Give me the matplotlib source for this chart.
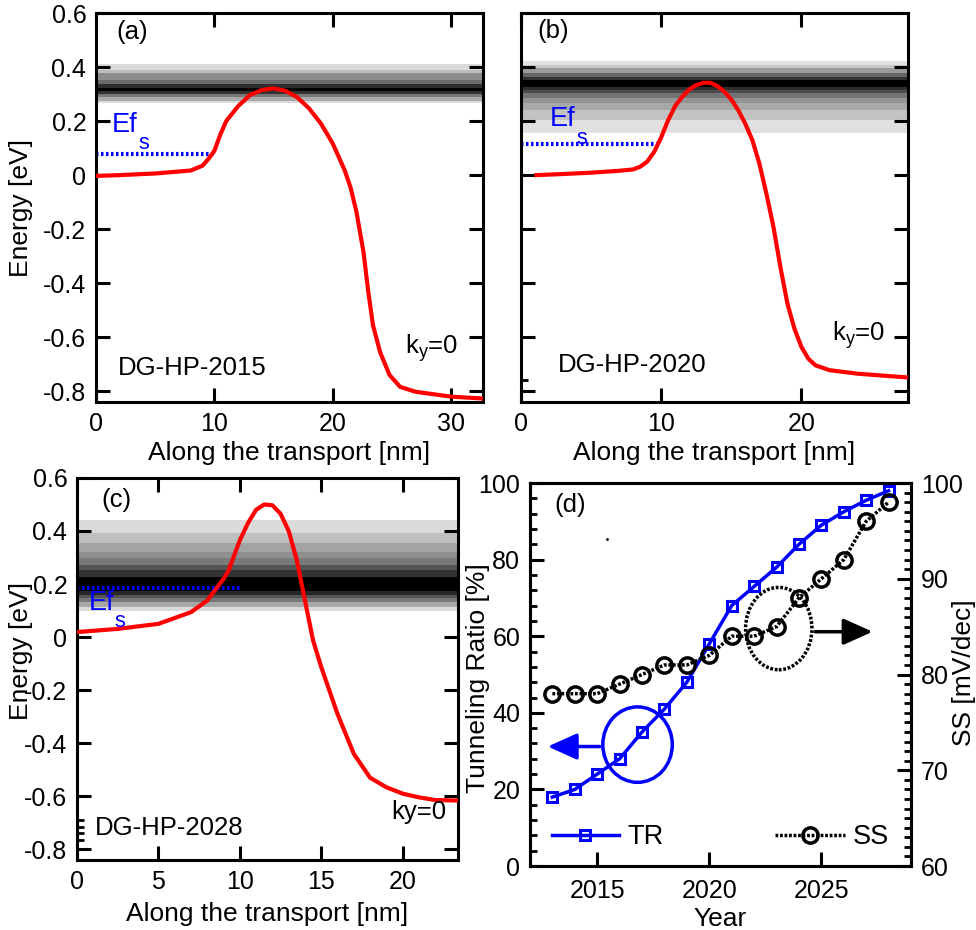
import matplotlib.pyplot as plt
from matplotlib.patches import Ellipse

plt.rcParams['font.family'] = ['Liberation Sans', 'DejaVu Sans']
plt.rcParams['font.size'] = 18
plt.rcParams['axes.labelsize'] = 19
plt.rcParams['mathtext.fontset'] = 'custom'
plt.rcParams['mathtext.rm'] = 'Liberation Sans'

# conduction band profiles along the transport direction
x_a = [0, 2, 5, 8, 9, 9.5, 10, 10.5, 11, 12, 13, 14, 15, 16, 17, 18, 19, 20, 21,
       21.5, 22, 22.6, 23, 23.4, 24, 24.8, 25.7, 27, 30, 32.7]
e_a = [-0.003, 0.0, 0.006, 0.017, 0.035, 0.06, 0.09, 0.15, 0.2, 0.255, 0.296, 0.315,
       0.321, 0.312, 0.288, 0.247, 0.191, 0.117, 0.019, -0.045, -0.135, -0.285, -0.43,
       -0.555, -0.655, -0.74, -0.784, -0.802, -0.82, -0.827]

x_b = [1.1, 3, 5, 7, 8, 8.5, 9, 9.5, 10, 10.5, 11, 11.5, 12, 12.5, 13, 13.5, 14, 14.5,
       15, 15.5, 16, 16.5, 17, 17.5, 18, 18.5, 19, 19.5, 20, 20.5, 21, 22, 24, 26, 27.6]
e_b = [0.0, 0.004, 0.009, 0.016, 0.021, 0.031, 0.05, 0.086, 0.14, 0.204, 0.256, 0.29,
       0.317, 0.333, 0.342, 0.342, 0.33, 0.309, 0.28, 0.24, 0.19, 0.13, 0.043, -0.068,
       -0.19, -0.34, -0.475, -0.568, -0.636, -0.68, -0.704, -0.722, -0.735, -0.743, -0.749]

x_c = [0, 2.5, 5, 7, 8, 9, 9.3, 10, 10.5, 11, 11.5, 12, 12.5, 13, 13.5, 14, 14.5, 15,
       16, 17, 18, 19, 20, 21, 22, 23.4]
e_c = [0.019, 0.031, 0.05, 0.094, 0.138, 0.22, 0.25, 0.365, 0.43, 0.48, 0.50, 0.497,
       0.465, 0.40, 0.29, 0.138, -0.013, -0.113, -0.29, -0.44, -0.53, -0.566, -0.59,
       -0.604, -0.614, -0.616]

# source Fermi levels
ef_x = [0, 10]
ef_a = 0.078
ef_b = 0.114
ef_c = 0.185

# energy-resolved density bands: stripe edges (eV) and gray levels
band_edges_a = [0.267, 0.275, 0.288, 0.300, 0.311, 0.322, 0.337, 0.352, 0.378, 0.389, 0.410]
band_gray_a = [0.86, 0.67, 0.47, 0.2, 0.0, 0.18, 0.42, 0.55, 0.74, 0.86]

band_edges_b = [0.156, 0.204, 0.241, 0.266, 0.284, 0.303, 0.315, 0.327, 0.352, 0.364,
                0.377, 0.395, 0.407, 0.422]
band_gray_b = [0.88, 0.76, 0.66, 0.58, 0.45, 0.3, 0.18, 0.0, 0.2, 0.4, 0.6, 0.78, 0.88]

band_edges_c = [0.100, 0.114, 0.133, 0.146, 0.160, 0.172, 0.226, 0.253, 0.272, 0.298,
                0.321, 0.355, 0.391, 0.443]
band_gray_c = [0.86, 0.66, 0.47, 0.33, 0.15, 0.0, 0.2, 0.33, 0.48, 0.56, 0.64, 0.75, 0.86]

# scaling trend
years = [2013, 2014, 2015, 2016, 2017, 2018, 2019, 2020, 2021, 2022, 2023, 2024,
         2025, 2026, 2027, 2028]
tr = [18, 20, 24, 28, 35, 41, 48, 58, 68, 73, 78, 84, 89, 92.5, 95.5, 98]
ss = [78, 78, 78, 79, 80, 81, 81, 82, 84, 84, 85, 88, 90, 92, 96, 98]

fig = plt.figure(figsize=(9.76, 9.30), dpi=100)
ax_a = fig.add_axes([0.0984, 0.5677, 0.3965, 0.4183])
ax_b = fig.add_axes([0.5338, 0.5677, 0.3965, 0.4183])
ax_c = fig.add_axes([0.0789, 0.0753, 0.3904, 0.4108])
ax_d = fig.add_axes([0.5430, 0.0688, 0.3904, 0.4118])

TXT = 18.5


def style(ax):
    for s in ax.spines.values():
        s.set_linewidth(2.2)
    ax.tick_params(which='major', direction='in', length=10, width=2.2, pad=7)
    ax.tick_params(which='minor', direction='in', length=5, width=2.0)


def band_panel(ax, x, e, edges, grays, ef, xmax, xticks):
    for lo, hi, g in zip(edges[:-1], edges[1:], grays):
        ax.axhspan(lo, hi, color=str(g), lw=0, zorder=0)
    ax.plot(x, e, color='red', lw=3, zorder=3)
    ax.plot(ef_x, [ef, ef], color='blue', lw=3, ls=(0, (0.6, 0.6)), zorder=2)
    ax.set_xlim(0, xmax)
    ax.set_ylim(-0.84, 0.6)
    ax.set_xticks(xticks)
    ax.set_yticks([-0.8, -0.6, -0.4, -0.2, 0, 0.2, 0.4, 0.6])
    ax.set_yticklabels(['-0.8', '-0.6', '-0.4', '-0.2', '0', '0.2', '0.4', '0.6'])
    ax.tick_params(top=True, right=True)
    style(ax)
    ax.set_xlabel('Along the transport [nm]')
    ax.xaxis.set_label_coords(0.5, -0.10)


def ef_label(ax, x, y):
    ax.text(x, y, 'Ef', transform=ax.transAxes, color='blue', ha='left',
            va='baseline', fontsize=TXT + 1)
    ax.text(x + 0.068, y - 0.045, 's', transform=ax.transAxes, color='blue',
            ha='left', va='baseline', fontsize=TXT - 3)


def ky_label(ax, x, y, ha='left'):
    ax.text(x, y, r'k$_\mathregular{y}$=0', transform=ax.transAxes, ha=ha,
            va='center', fontsize=TXT)


# (a)
band_panel(ax_a, x_a, e_a, band_edges_a, band_gray_a, ef_a, 32.7, [0, 10, 20, 30])
ax_a.set_ylabel('Energy [eV]')
ax_a.yaxis.set_label_coords(-0.163, 0.5)
ax_a.text(0.093, 0.951, '(a)', transform=ax_a.transAxes, ha='center', va='center',
          fontsize=TXT)
ax_a.text(0.057, 0.087, 'DG-HP-2015', transform=ax_a.transAxes, ha='left', va='center',
          fontsize=TXT)
ky_label(ax_a, 0.798, 0.138)
ef_label(ax_a, 0.041, 0.695)

# (b)
band_panel(ax_b, x_b, e_b, band_edges_b, band_gray_b, ef_b, 27.6, [0, 10, 20])
ax_b.set_yticklabels([])
ax_b.set_yticks([-0.76], minor=True)
ax_b.tick_params(which='minor', right=False)
ax_b.text(0.083, 0.955, '(b)', transform=ax_b.transAxes, ha='center', va='center',
          fontsize=TXT)
ax_b.text(0.096, 0.095, 'DG-HP-2020', transform=ax_b.transAxes, ha='left', va='center',
          fontsize=TXT)
ky_label(ax_b, 0.803, 0.172)
ef_label(ax_b, 0.075, 0.709)

# (c)
band_panel(ax_c, x_c, e_c, band_edges_c, band_gray_c, ef_c, 23.4, [0, 5, 10, 15, 20])
ax_c.set_yticks([-0.765, -0.74, -0.715, -0.69], minor=True)
ax_c.tick_params(which='minor', right=False)
ax_c.set_ylabel('Energy [eV]')
ax_c.yaxis.set_label_coords(-0.115, 0.547)
ax_c.xaxis.set_label_coords(0.5, -0.109)
ax_c.text(0.104, 0.942, '(c)', transform=ax_c.transAxes, ha='center', va='center',
          fontsize=TXT)
ax_c.text(0.047, 0.083, 'DG-HP-2028', transform=ax_c.transAxes, ha='left', va='center',
          fontsize=TXT)
ax_c.text(0.969, 0.126, 'ky=0', transform=ax_c.transAxes, ha='right', va='center',
          fontsize=TXT)
ef_label(ax_c, 0.030, 0.654)

# (d) tunneling ratio and subthreshold swing vs year
ax2 = ax_d.twinx()
ax_d.plot(years, tr, color='blue', lw=2.5, marker='s', ms=7, mfc='none', mew=2.2,
          label='TR')
ax2.plot(years, ss, color='black', lw=2.5, ls=(0, (0.8, 0.5)), marker='o', ms=11,
         mfc='none', mew=2.5, label='SS')
ax_d.plot([2015.42], [85.3], 'k.', ms=2)
ax_d.set_xlim(2012, 2029)
ax_d.set_ylim(0, 100)
ax2.set_ylim(60, 100)
ax_d.set_xticks([2015, 2020, 2025])
ax_d.set_yticks([0, 20, 40, 60, 80, 100])
ax_d.set_yticks(range(0, 101, 4), minor=True)
ax2.set_yticks([60, 70, 80, 90, 100])
ax2.set_yticks(range(60, 101, 1), minor=True)
style(ax_d)
style(ax2)
ax_d.tick_params(axis='x', which='minor', bottom=False)
ax_d.tick_params(axis='x', pad=9)
ax_d.set_xlabel('Year')
ax_d.xaxis.set_label_coords(0.5, -0.106)
ax_d.set_ylabel('Tunneling Ratio [%]')
ax_d.yaxis.set_label_coords(-0.105, 0.49)
ax2.set_ylabel('SS [mV/dec]')
ax2.yaxis.set_label_coords(1.107, 0.504)
ax_d.text(0.105, 0.943, '(d)', transform=ax_d.transAxes, ha='center', va='center',
          fontsize=TXT)

ax_d.add_patch(Ellipse((2016.8, 31.7), 3.1, 19.7, fill=False, ec='blue', lw=2.5))
ax_d.annotate('', xy=(2012.67, 31.2), xytext=(2015.24, 31.2),
              arrowprops=dict(arrowstyle='-|>,head_length=1.0,head_width=0.45',
                              color='blue', lw=2.5))
ax2.add_patch(Ellipse((2023.1, 84.8), 2.96, 8.6, fill=False, ec='black', lw=2.5,
                      ls=(0, (0.8, 0.5))))
ax2.annotate('', xy=(2027.41, 84.47), xytext=(2024.6, 84.47),
             arrowprops=dict(arrowstyle='-|>,head_length=1.0,head_width=0.45',
                             color='black', lw=2.5))

ax_d.legend(handles=[ax_d.lines[0]], loc='lower left', frameon=False,
            handlelength=2.5, handletextpad=0.3, borderaxespad=0.4,
            bbox_to_anchor=(0.0, -0.015), fontsize=TXT + 1)
ax2.legend(handles=[ax2.lines[0]], loc='lower right', frameon=False,
           handlelength=2.6, handletextpad=0.3, borderaxespad=0.4,
           bbox_to_anchor=(1.0, -0.015), fontsize=TXT + 1)

fig.savefig('out.png', dpi=100)
